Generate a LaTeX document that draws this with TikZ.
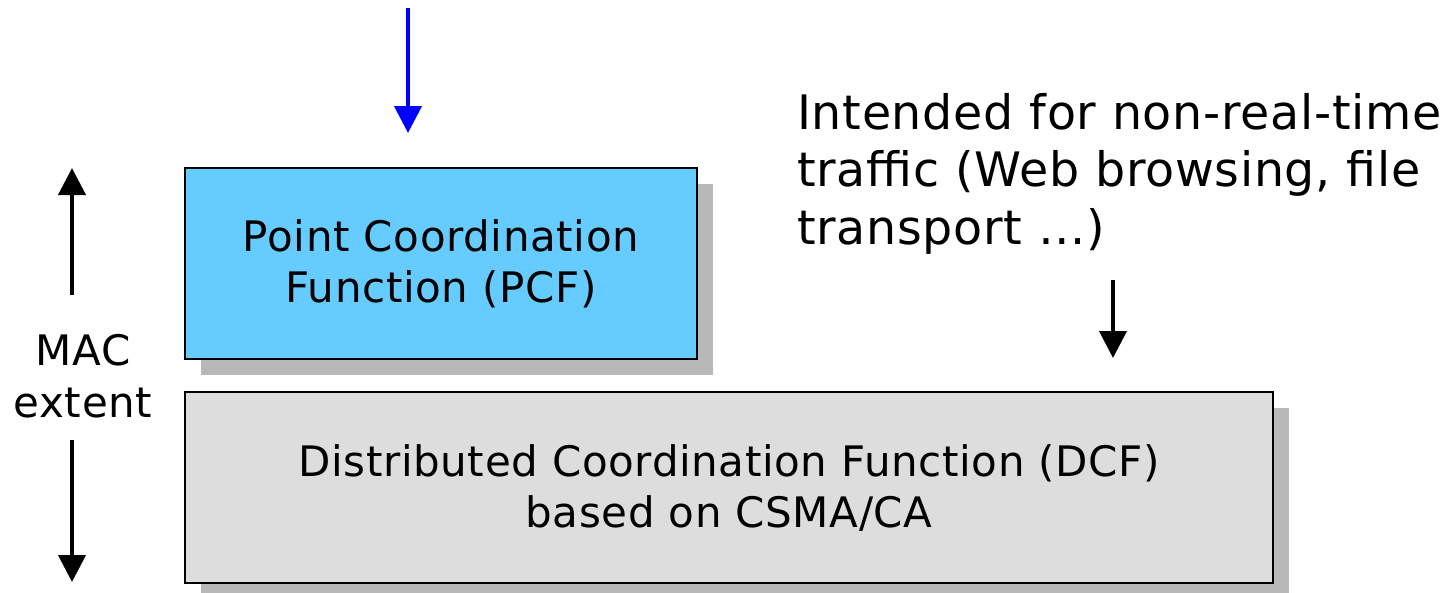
\documentclass[tikz,border=0pt]{standalone}
\usepackage{fontspec}
\setmainfont{DejaVu Sans}[LetterSpace=1.5]
\usetikzlibrary{arrows.meta,shadows}
\definecolor{pcfblue}{HTML}{66CCFF}
\definecolor{dcfgray}{HTML}{DDDDDD}
\definecolor{shadowgray}{HTML}{B8B8B8}
\tikzset{
  funcbox/.style={draw=black, line width=2pt, align=center, inner sep=0pt,
    font=\fontsize{42}{51}\selectfont,
    drop shadow={shadow xshift=16pt, shadow yshift=-16pt, fill=shadowgray, opacity=1}},
  bigarrow/.style={line width=4pt, -{Triangle[width=27pt,length=27pt]}},
  labeltext/.style={align=center, inner sep=0pt},
}
\begin{document}
\begin{tikzpicture}[x=1pt,y=-1pt]
\useasboundingbox (0,0) rectangle (1454,592);
\node[funcbox, fill=pcfblue, minimum width=512pt, minimum height=191pt] (pcf) at (441,263.5)
  {Point Coordination\\Function (PCF)};
\node[funcbox, fill=dcfgray, minimum width=1088pt, minimum height=191pt] (dcf) at (729,487.5)
  {Distributed Coordination Function (DCF)\\based on CSMA/CA};
\node[labeltext, font=\fontsize{42}{52}\selectfont] (mac) at (83,376) {MAC\\extent};
\node[labeltext, align=left, anchor=north west, font=\fontsize{47.5}{57.5}\selectfont] (note) at (797,93)
  {Intended for non-real-time\\traffic (Web browsing, file\\transport …)};
\coordinate (bluetop) at (408,8);
\coordinate (bluetip) at (408,133);
\coordinate (notearrtop) at (1113,280);
\coordinate (notearrtip) at (1113,358);
\coordinate (upstart) at (72,295);
\coordinate (uptip) at (72,168);
\coordinate (downstart) at (72,440);
\coordinate (downtip) at (72,582);
\draw[bigarrow, blue] (bluetop) -- (bluetip);
\draw[bigarrow] (notearrtop) -- (notearrtip);
\draw[bigarrow] (upstart) -- (uptip);
\draw[bigarrow] (downstart) -- (downtip);
\end{tikzpicture}
\end{document}
